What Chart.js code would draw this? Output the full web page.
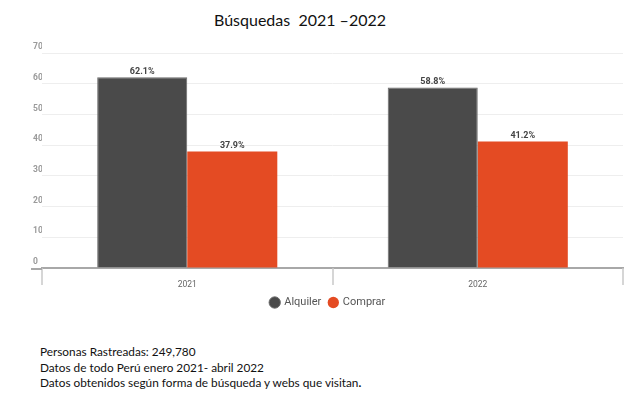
<!DOCTYPE html>
<html>
<head>
<meta charset="utf-8">
<script src="https://cdn.jsdelivr.net/npm/chart.js@4"></script>
<style>
  body { margin: 0; width: 640px; height: 417px; background: #fff; position: relative; overflow: hidden; }
  #title { position: absolute; left: 0; width: 600px; top: 10px; text-align: center; font-family: Lato, sans-serif; font-size: 16px; color: #111; white-space: pre; }
  #wrap { position: absolute; left: 0; top: 0; width: 640px; height: 330px; }
  #notes { position: absolute; left: 40px; top: 344px; font-family: Lato, sans-serif; font-size: 11.8px; line-height: 15.5px; color: #111; }
</style>
</head>
<body>
<div id="title">Búsquedas  2021 –2022</div>
<div id="wrap"><canvas id="chart"></canvas></div>
<div id="notes">
  Personas Rastreadas: 249,780<br>
  Datos de todo Perú enero 2021- abril 2022<br>
  Datos obtenidos según forma de búsqueda y webs que visitan<b>.</b>
</div>
<script>
const years = ['2021', '2022'];
const alquiler = [62.1, 58.8];
const comprar = [37.9, 41.2];
const yTicks = [0, 10, 20, 30, 40, 50, 60, 70];

// percentage labels above each bar
const barLabels = {
    id: 'barLabels',
    afterDatasetsDraw(chart) {
        const ctx = chart.ctx;
        ctx.save();
        ctx.font = 'bold 9px Roboto';
        ctx.fillStyle = '#444';
        ctx.textAlign = 'center';
        ctx.textBaseline = 'bottom';
        chart.data.datasets.forEach((ds, i) => {
            chart.getDatasetMeta(i).data.forEach((bar, j) => {
                ctx.fillText(ds.data[j].toFixed(1) + '%', bar.x, bar.y - 1);
            });
        });
        ctx.restore();
    }
};

// long tick marks at the category edges, and baseline running a bit to the left
const xTickMarks = {
    id: 'xTickMarks',
    afterDraw(chart) {
        const ctx = chart.ctx;
        const area = chart.chartArea;
        const step = (area.right - area.left) / years.length;
        ctx.save();
        ctx.strokeStyle = '#c8c8c8';
        ctx.lineWidth = 1.5;
        for (let i = 0; i <= years.length; i++) {
            const px = Math.round(area.left + i * step);
            ctx.beginPath();
            ctx.moveTo(px, area.bottom);
            ctx.lineTo(px, area.bottom + 17);
            ctx.stroke();
        }
        ctx.strokeStyle = '#a8a8a8';
        ctx.lineWidth = 2;
        ctx.beginPath();
        ctx.moveTo(31, area.bottom + 1);
        ctx.lineTo(area.left, area.bottom + 1);
        ctx.stroke();
        ctx.restore();
    }
};

new Chart(document.getElementById('chart'), {
    type: 'bar',
    data: {
        labels: years,
        datasets: [
            { label: 'Alquiler', data: alquiler, backgroundColor: '#4a4a4a', borderColor: '#6a6a6a', borderWidth: 1 },
            { label: 'Comprar', data: comprar, backgroundColor: '#e44b23', borderColor: '#e44b23', borderWidth: 0 }
        ]
    },
    options: {
        responsive: true,
        maintainAspectRatio: false,
        animation: false,
        layout: { padding: { left: 33, right: 17, top: 53, bottom: 12 } },
        datasets: { bar: { categoryPercentage: 0.62, barPercentage: 1.0 } },
        scales: {
            x: {
                grid: { display: false },
                border: { display: true, color: '#a8a8a8', width: 2 },
                ticks: { padding: 4, color: '#666', font: { family: 'Roboto', size: 8.5 } },
                afterFit: axis => { axis.height = 21; }
            },
            y: {
                min: 0,
                max: 70,
                afterBuildTicks: axis => { axis.ticks = yTicks.map(v => ({ value: v })); },
                grid: { color: '#eeeeee', drawTicks: false },
                border: { display: false },
                ticks: { crossAlign: 'far', padding: 0, labelOffset: -6, color: '#9a9a9a', font: { family: 'Roboto', size: 8.5, weight: 'bold' } },
                afterFit: axis => { axis.width = 9; }
            }
        },
        plugins: {
            legend: {
                position: 'bottom',
                labels: { usePointStyle: true, pointStyle: 'circle', boxWidth: 8, boxHeight: 8, padding: 8, color: '#555', font: { family: 'Roboto', size: 11 } }
            },
            tooltip: { enabled: false }
        }
    },
    plugins: [barLabels, xTickMarks]
});
</script>
</body>
</html>
